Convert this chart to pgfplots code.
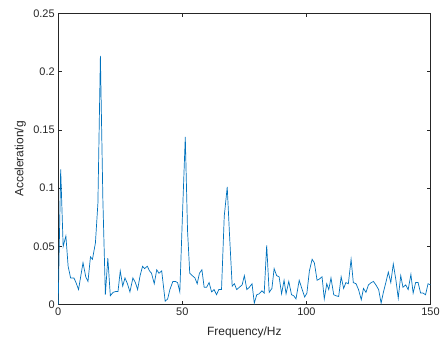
\documentclass[border=0pt]{standalone}
\usepackage{pgfplots}
\pgfplotsset{compat=1.18}
\usepackage{fontspec}
\setmainfont{Liberation Sans}
\usetikzlibrary{calc}
\definecolor{mblue}{rgb}{0,0.447,0.741}
\definecolor{axgray}{rgb}{0.15,0.15,0.15}
\begin{document}
\begin{tikzpicture}
\begin{axis}[
  scale only axis,
  width=373pt, height=292pt,
  xmin=0, xmax=150, ymin=0, ymax=0.25,
  xtick={0,50,100,150},
  ytick={0,0.05,0.1,0.15,0.2,0.25},
  yticklabels={0,0.05,0.1,0.15,0.2,0.25},
  tick align=inside, tick pos=both,
  major tick length=4pt,
  axis line style={axgray, line width=0.5pt},
  every tick/.style={axgray, line width=0.5pt},
  tick label style={font=\fontsize{11}{12}\selectfont, text=axgray},
  /pgf/number format/assume math mode=true,
  label style={font=\fontsize{12}{14}\selectfont, text=axgray},
  xlabel={Frequency/Hz},
  ylabel={Acceleration/g},
  xlabel style={at={(axis description cs:0.5,0)}, anchor=center, yshift=-28pt},
  ylabel style={at={(axis description cs:0,0.5)}, anchor=center, yshift=38pt},
]
\addplot[mblue, line width=0.7pt] coordinates {
(0,0) (1,0.116) (2,0.05) (3.1,0.059) (4,0.033) (5,0.023) (6.3,0.023) (7,0.02) (8.2,0.013)
(10,0.036) (11.1,0.024) (12,0.02) (13,0.041) (13.8,0.039) (15,0.053) (16,0.087) (17,0.2134)
(18,0.09) (19,0.0086) (20,0.04) (21,0.0077) (22.1,0.0106) (23.2,0.0114) (24.1,0.0114)
(25,0.029) (26,0.016) (26.9,0.023) (27.9,0.018) (28.9,0.011) (30.1,0.023) (31.1,0.019)
(32,0.013) (33,0.025) (34,0.033) (34.8,0.031) (35.9,0.033) (36.8,0.029) (37.6,0.027)
(38.7,0.018) (39.7,0.030) (40.6,0.027) (41.7,0.029) (43.1,0.003) (44.1,0.005) (45,0.013)
(46.2,0.02) (47.2,0.02) (48.1,0.019) (49,0.011) (50,0.073) (51.2,0.144) (52.1,0.064)
(53,0.027) (54,0.025) (55.1,0.023) (56,0.018) (56.9,0.027) (57.9,0.030) (58.8,0.015)
(59.8,0.015) (60.8,0.019) (61.8,0.011) (62.8,0.013) (63.8,0.0086) (64.7,0.013) (65.8,0.013)
(66.9,0.076) (68.1,0.101) (69,0.061) (70.1,0.016) (71,0.018) (71.9,0.013) (73,0.015)
(74.1,0.017) (75,0.025) (76,0.013) (77,0.015) (78.1,0.018) (79,0.0014) (80,0.0086)
(81,0.0094) (82.1,0.012) (83,0.01) (84,0.051) (85,0.0106) (86.1,0.014) (87,0.031)
(88,0.025) (89,0.024) (90,0.0094) (91,0.021) (91.8,0.0094) (92.9,0.02) (94,0.0086)
(94.9,0.0077) (95.8,0.005) (97.1,0.021) (98.3,0.013) (99.3,0.0066) (100.2,0.01)
(101.2,0.029) (102.3,0.039) (103.2,0.036) (104.3,0.021) (105.2,0.022) (106.3,0.024)
(107.2,0.005) (108.2,0.018) (109,0.013) (109.9,0.023) (111,0.0086) (111.9,0.0077)
(113,0.0071) (114,0.024) (115,0.014) (115.9,0.019) (116.9,0.018) (118,0.039) (118.9,0.019)
(120,0.018) (121,0.013) (122.1,0.0043) (123,0.014) (124,0.0106) (125,0.017) (126.1,0.019)
(127,0.02) (128,0.017) (129.1,0.013) (130.1,0.0014) (131,0.0106) (132,0.019) (133,0.028)
(134,0.019) (135,0.035) (136,0.022) (137,0.0057) (138,0.025) (138.9,0.015) (140,0.017)
(141,0.013) (142.1,0.026) (143,0.01) (144,0.019) (145,0.019) (146,0.01) (147,0.01)
(148,0.0086) (149,0.018) (150,0.017)
};
\end{axis}
\useasboundingbox ($(current axis.south west)+(-58.3pt,-42pt)$) rectangle ($(current axis.north east)+(11.4pt,13.3pt)$);
\end{tikzpicture}
\end{document}
